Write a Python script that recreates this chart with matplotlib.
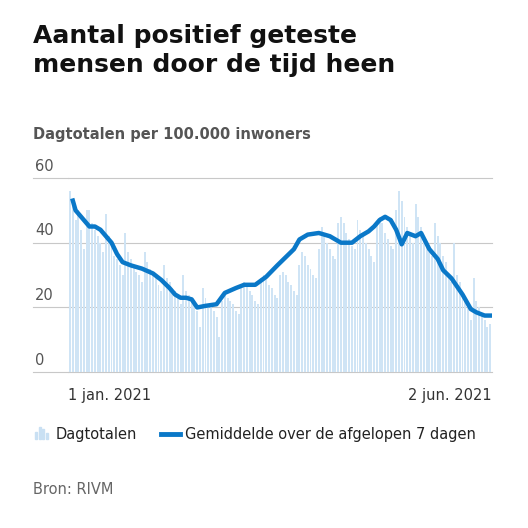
import matplotlib
matplotlib.use("Agg")
import matplotlib.pyplot as plt
import numpy as np
import pandas as pd
from matplotlib.lines import Line2D
from matplotlib.patches import Rectangle

daily = [56,52,47,50,44,38,50, 50,46,44,42,40,37,49, 42,40,36,35,33,30,43,
         37,35,33,31,30,28,37, 34,32,30,29,27,25,33, 29,28,26,25,23,21,30,
         25,24,22,21,19,14,26, 23,21,20,19,17,11,22, 24,23,22,21,19,18,26,
         28,27,25,24,22,21,29, 30,29,27,26,24,23,30, 31,30,28,27,25,24,33,
         37,36,33,32,30,29,38, 45,43,40,38,36,35,46, 48,46,43,41,39,38,47,
         44,42,40,38,36,34,46, 48,46,43,41,39,38,50, 56,53,48,45,42,40,52,
         48,45,42,40,37,36,46, 42,40,36,34,30,28,40, 30,28,25,23,20,16,29,
         22,20,18,16,14,15]
avg_days = [1,2,4,6,7,9,11,13,15,17,19,22,26,30,33,36,38,40,42,44,46,49,53,56,60,63,67,71,75,78,81,83,
            86,90,94,98,102,105,108,110,112,114,116,118,120,122,125,127,130,133,135,138,142,145,147,150,152]
avg_vals = [53,50,48,46,45,45,44,42,40,36.5,34,33,32,30.5,28.5,26,24,23,23,22.5,20,20.5,21,24.5,26,
            27,27,29.5,33,35.5,38,41,42.5,43,42,40,40,42,43.5,45,47,48,47,44,39.5,43,42,43,38,35,31.5,
            29,24,19.5,18.5,17.5,17.5]

dates = pd.date_range("2021-01-01", periods=len(daily))
avg_dates = dates[avg_days]

blue = "#0a78c8"
fig = plt.figure(figsize=(5.28, 5.28), dpi=100)
ax = fig.add_axes([0.129, 0.295, 0.803, 0.368])
ax.bar(dates, daily, width=0.7, color="#cfe4f5", zorder=1)
ax.plot(avg_dates, avg_vals, color=blue, lw=3.2, solid_joinstyle="round", zorder=3)
ax.set_ylim(0, 60)
ax.set_xlim(dates[0] - pd.Timedelta(days=0.7), dates[-1] + pd.Timedelta(days=0.7))
for s in ax.spines.values():
    s.set_visible(False)
ax.set_yticks([]); ax.set_xticks([])
for v in [0, 20, 40, 60]:
    ax.axhline(v, color="#c8c8c8", lw=0.8, zorder=0, clip_on=False)
    y = 0.295 + 0.368 * v / 60
    fig.add_artist(Line2D([0.062, 0.129], [y, y], color="#c8c8c8", lw=0.8))
    fig.text(0.066, y + 0.008, str(v), fontsize=10.5, color="#555555", va="bottom")
fig.text(0.129, 0.265, "1 jan. 2021", fontsize=10.5, color="#333333", va="top", ha="left")
fig.text(0.932, 0.265, "2 jun. 2021", fontsize=10.5, color="#333333", va="top", ha="right")

fig.text(0.062, 0.955, "Aantal positief geteste\nmensen door de tijd heen", fontsize=18,
         fontweight="bold", va="top", ha="left", color="#111111", linespacing=1.3)
fig.text(0.062, 0.745, "Dagtotalen per 100.000 inwoners", fontsize=10.5, fontweight="bold",
         color="#555555", va="center")
for i, h in enumerate([0.6, 1.0, 0.8, 0.5]):
    fig.add_artist(Rectangle((0.066 + i * 0.007, 0.168), 0.004, 0.024 * h, color="#c9e0f3"))
fig.text(0.105, 0.178, "Dagtotalen", fontsize=10.5, color="#222222", va="center")
fig.add_artist(Line2D([0.305, 0.34], [0.178, 0.178], color=blue, lw=3.5))
fig.text(0.35, 0.178, "Gemiddelde over de afgelopen 7 dagen", fontsize=10.5, color="#222222", va="center")
fig.text(0.062, 0.072, "Bron: RIVM", fontsize=10.5, color="#666666", va="center")
fig.savefig("out.png", dpi=100, facecolor="white")
